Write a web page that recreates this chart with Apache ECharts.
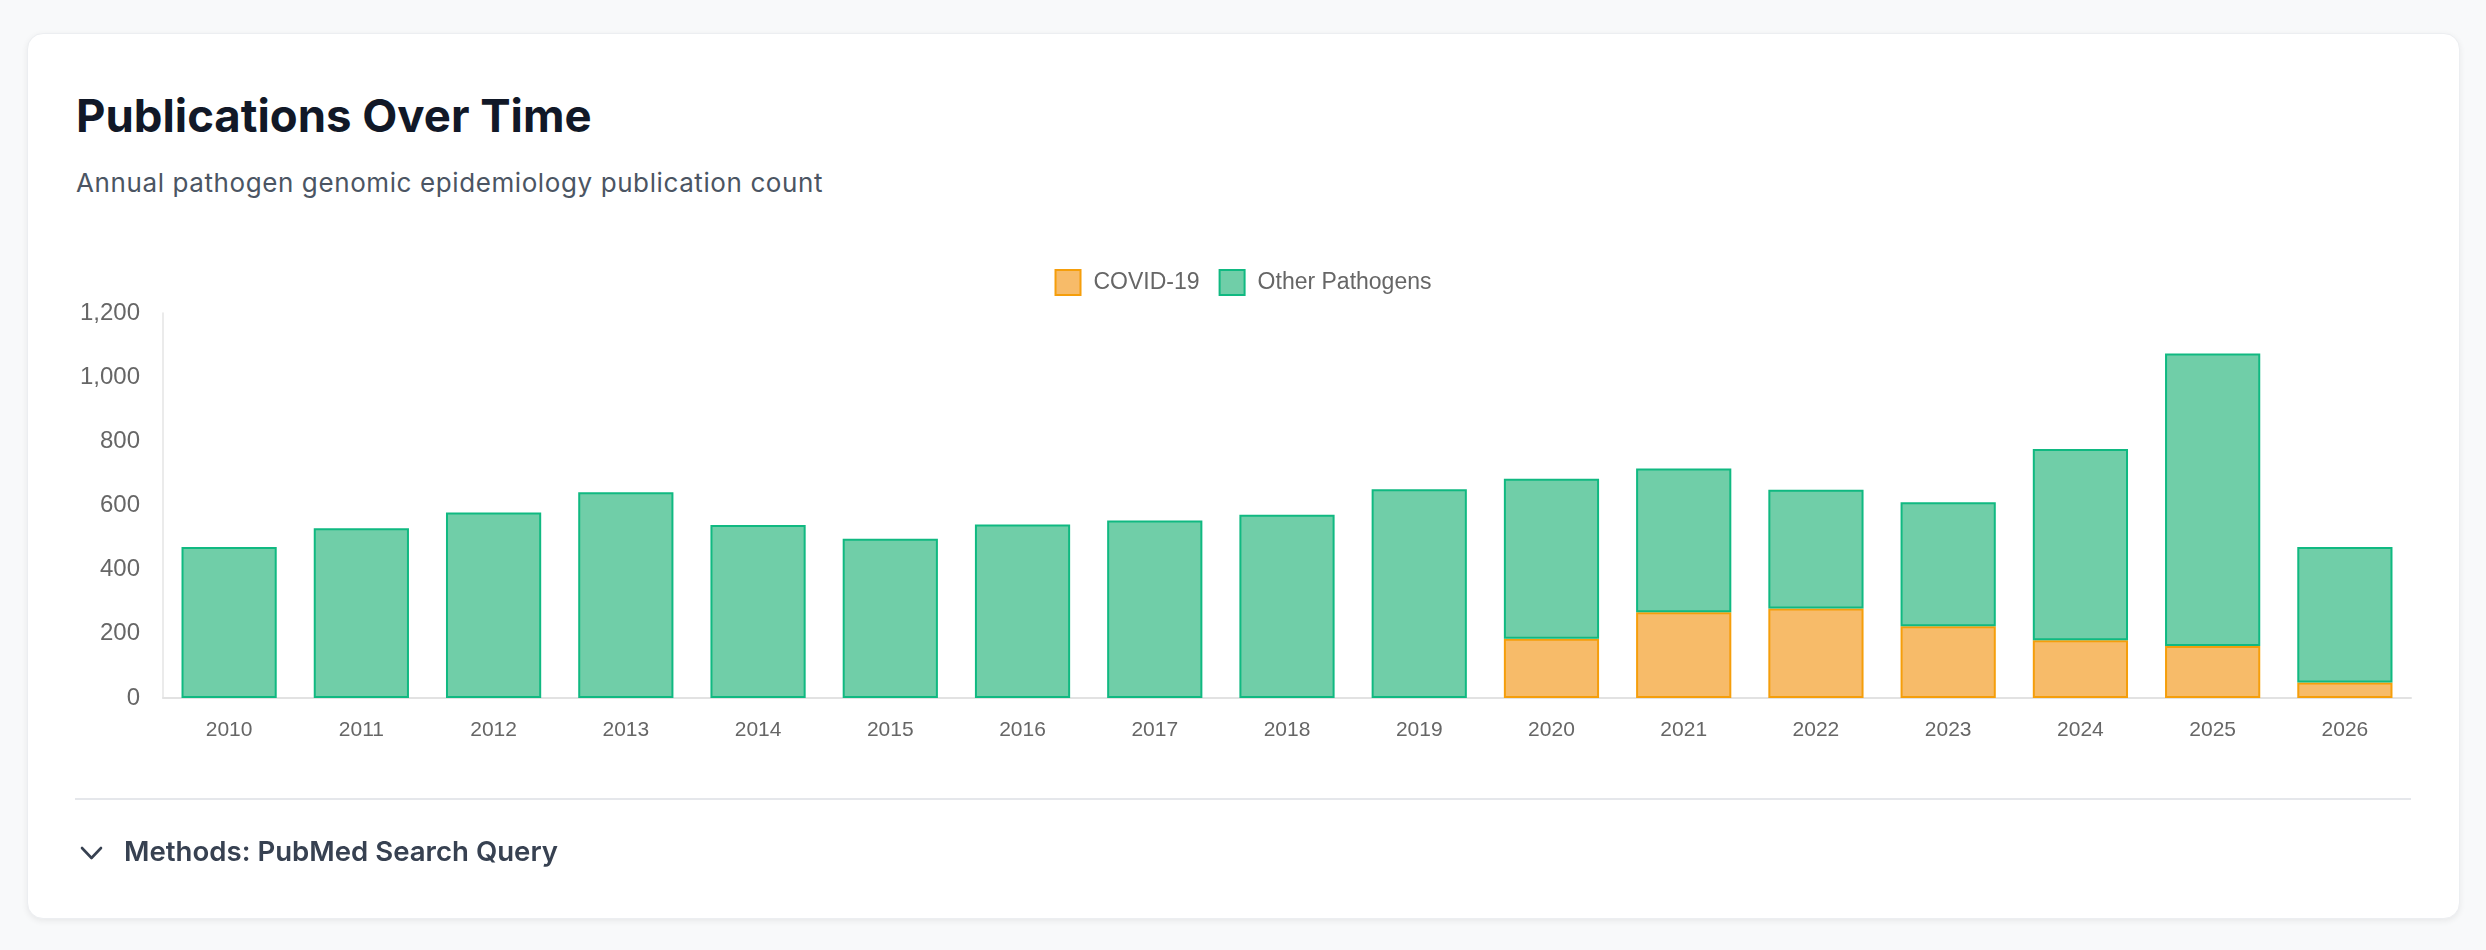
<!DOCTYPE html>
<html>
<head>
<meta charset="utf-8">
<title>Publications Over Time</title>
<script src="https://cdn.jsdelivr.net/npm/echarts@6/dist/echarts.min.js"></script>
<style>
  html, body { margin: 0; padding: 0; width: 2486px; height: 950px; background: #f8f9fa; overflow: hidden; }
  .card {
    position: absolute; left: 27px; top: 33px; width: 2433px; height: 886px;
    background: #fff; border: 1px solid #eceef1; border-radius: 16px; box-sizing: border-box;
    box-shadow: 0 2px 6px rgba(0,0,0,0.07);
  }
  .txt { position: absolute; font-family: Inter, "Noto Sans", sans-serif; white-space: nowrap; }
  #title { left: 76px; top: 93px; font-size: 45.5px; line-height: 45.5px; font-weight: 700; color: #111827; }
  #subtitle { left: 76px; top: 170px; font-size: 26px; line-height: 26px; color: #4b5563; letter-spacing: 0.6px; }
  #divider { position: absolute; left: 75px; top: 798px; width: 2336px; height: 2px; background: #e5e7eb; }
  #methods { left: 124px; top: 838px; font-size: 27.6px; line-height: 27.6px; font-weight: 600; color: #374151; }
  #chevron { position: absolute; left: 80px; top: 845px; }
  #chart { position: absolute; left: 0; top: 0; width: 2486px; height: 950px; }
</style>
</head>
<body>
<div class="card"></div>
<div class="txt" id="title">Publications Over Time</div>
<div class="txt" id="subtitle">Annual pathogen genomic epidemiology publication count</div>
<div id="chart"></div>
<div id="divider"></div>
<svg id="chevron" width="23" height="16" viewBox="0 0 23 16">
  <polyline points="2,3 11.5,13 21,3" fill="none" stroke="#374151" stroke-width="2.6" stroke-linecap="round" stroke-linejoin="round"/>
</svg>
<div class="txt" id="methods">Methods: PubMed Search Query</div>
<script>
  // values
  const years = ['2010', '2011', '2012', '2013', '2014', '2015', '2016', '2017', '2018',
                 '2019', '2020', '2021', '2022', '2023', '2024', '2025', '2026'];
  const covid = [null, null, null, null, null, null, null, null, null,
                 null, 185, 267, 279, 224, 180, 162, 48];
  const other = [471, 529, 578, 641, 539, 496, 541, 553, 571,
                 651, 498, 448, 370, 386, 596, 912, 423];
  const yTicks = { min: 0, max: 1200, interval: 200 };

  const chart = echarts.init(document.getElementById('chart'), null, { renderer: 'canvas' });

  const option = {
    animation: false,
    legend: {
      top: 264,
      left: 'center',
      icon: 'rect',
      itemWidth: 25,
      itemHeight: 25,
      itemGap: 19,
      textStyle: { fontFamily: '"Liberation Sans", Arial, sans-serif', fontSize: 23, color: '#666', padding: [0, 0, 0, 8] },
      data: ['COVID-19', 'Other Pathogens']
    },
    grid: { left: 163, right: 75, top: 313, bottom: 252 },
    xAxis: {
      type: 'category',
      data: years,
      axisTick: { show: false },
      axisLine: { lineStyle: { color: '#e2e2e2', width: 2 } },
      axisLabel: { margin: 22, fontFamily: '"Liberation Sans", Arial, sans-serif', fontSize: 21, color: '#666' }
    },
    yAxis: {
      type: 'value',
      min: yTicks.min,
      max: yTicks.max,
      interval: yTicks.interval,
      splitLine: { show: false },
      axisTick: { show: false },
      axisLine: { show: true, lineStyle: { color: '#e4e4e4', width: 1.5 } },
      axisLabel: {
        margin: 23,
        fontFamily: '"Liberation Sans", Arial, sans-serif',
        fontSize: 24,
        color: '#666',
        formatter: v => v.toLocaleString('en-US')
      }
    },
    series: [
      {
        name: 'COVID-19',
        type: 'bar',
        stack: 'total',
        barWidth: '72%',
        data: covid,
        itemStyle: { color: '#f7bb69', borderColor: '#f59e0b', borderWidth: 2 }
      },
      {
        name: 'Other Pathogens',
        type: 'bar',
        stack: 'total',
        barWidth: '72%',
        data: other,
        itemStyle: { color: '#70cea8', borderColor: '#10b981', borderWidth: 2 }
      }
    ]
  };

  chart.setOption(option);
</script>
</body>
</html>
